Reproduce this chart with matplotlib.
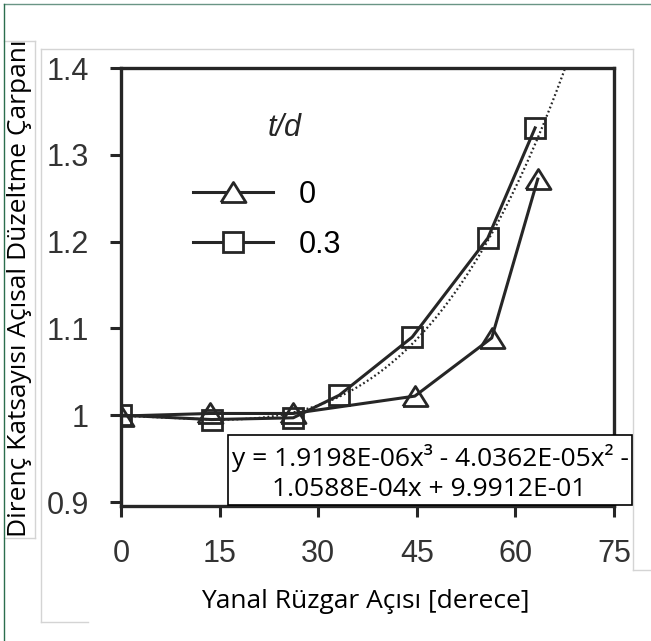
import numpy as np
import matplotlib
matplotlib.use("Agg")
import matplotlib.pyplot as plt
from matplotlib.patches import Rectangle
from matplotlib.lines import Line2D

# measured drag correction factors vs. yaw angle
angle_td0 = [0, 13.6, 26.2, 44.7, 56.4, 63.4]
factor_td0 = [0.999, 1.002, 1.002, 1.022, 1.089, 1.272]
angle_td03 = [0, 13.8, 26.2, 33.2, 44.3, 55.8, 63.0]
factor_td03 = [1.000, 0.995, 0.997, 1.023, 1.090, 1.204, 1.331]
series_labels = ["0", "0.3"]

# cubic trend line fitted to the t/d = 0.3 series
trend_coef = [1.9198E-06, -4.0362E-05, -1.0588E-04, 9.9912E-01]

x_ticks = [0, 15, 30, 45, 60, 75]
y_ticks = [0.9, 1.0, 1.1, 1.2, 1.3, 1.4]
y_ticklabels = ["0.9", "1", "1.1", "1.2", "1.3", "1.4"]

W, H = 651, 641
ink = "#262626"
tick_font = "Liberation Sans"
text_font = "Open Sans"

fig = plt.figure(figsize=(W / 100, H / 100), dpi=100)
fig.patch.set_facecolor("white")


def fx(px):
    return px / W


def fy(py):
    return 1 - py / H


ax = fig.add_axes([fx(121), fy(506), fx(614) - fx(121), fy(68) - fy(506)])
ax.set_xlim(0, 75)
ax.set_ylim(0.8954, 1.4)

tri = [(-1, -0.8), (1, -0.8), (0, 0.8), (-1, -0.8)]
mk = dict(mfc="none", mec=ink, mew=2.0, color=ink, lw=2.2)
ax.plot(angle_td0, factor_td0, marker=tri, ms=18, label=series_labels[0], **mk)
ax.plot(angle_td03, factor_td03, marker="s", ms=15, label=series_labels[1], **mk)

xs = np.linspace(0, 72, 300)
ax.plot(xs, np.polyval(trend_coef, xs), color=ink, lw=1.6, ls=(0, (0.8, 1.2)))

for s in ax.spines.values():
    s.set_linewidth(2.4)
    s.set_color(ink)
ax.set_xticks(x_ticks)
ax.set_yticks(y_ticks)
ax.set_yticklabels(y_ticklabels)
ax.tick_params(direction="out", length=8, width=2.2, color=ink,
               labelsize=22, labelcolor="#333333")
ax.tick_params(axis="y", pad=15)
ax.tick_params(axis="x", pad=16)
for lab in ax.get_xticklabels() + ax.get_yticklabels():
    lab.set_family(tick_font)

# legend
handles = [
    Line2D([], [], marker=tri, ms=18, mfc="white", mec=ink, mew=2.0, color=ink, lw=2.2),
    Line2D([], [], marker="s", ms=15, mfc="white", mec=ink, mew=2.0, color=ink, lw=2.2),
]
ax.legend(handles, series_labels, loc="upper left",
          bbox_to_anchor=(fx(193), fy(180)), bbox_transform=fig.transFigure,
          frameon=False, borderpad=0, borderaxespad=0, handlelength=2.62,
          handletextpad=0.85, labelspacing=0.66,
          prop={"family": tick_font, "size": 22})
fig.text(fx(285), fy(128), "t/d", ha="center", va="center", fontsize=22,
         style="italic", family=tick_font, color=ink)

# equation box
fig.add_artist(Rectangle((fx(228), fy(505)), fx(632) - fx(228), fy(435) - fy(505),
                         transform=fig.transFigure, fc="white", ec="black", lw=1.2,
                         zorder=5))
fig.text(fx(430), fy(458), "y = 1.9198E-06x³ - 4.0362E-05x² -", ha="center",
         va="center", fontsize=19, family=text_font, color="black", zorder=6)
fig.text(fx(429), fy(489), "1.0588E-04x + 9.9912E-01", ha="center",
         va="center", fontsize=19, family=text_font, color="black", zorder=6)

# axis titles
fig.text(fx(365), fy(601), "Yanal Rüzgar Açısı [derece]", ha="center", va="center",
         fontsize=19, family=text_font, color="black")
fig.text(fx(20), fy(288), "Direnç Katsayısı Açısal Düzeltme Çarpanı", ha="center",
         va="center", rotation=90, fontsize=19, family=text_font, color="black")

# panel outlines
gray = "#d4d4d4"
frame_lines = [
    ([41, 633], [49, 49], gray), ([41, 41], [49, 622], gray), ([41, 88], [622, 622], gray),
    ([633, 633], [49, 570], gray), ([633, 651], [570, 570], gray),
    ([4, 35], [41, 41], gray), ([35, 35], [41, 538], gray), ([4, 35], [538, 538], gray),
    ([4, 651], [4, 4], "#6a9585"), ([4, 4], [4, 641], "#2b6e4e"),
]
for xx, yy, c in frame_lines:
    fig.add_artist(Line2D([fx(v) for v in xx], [fy(v) for v in yy],
                          transform=fig.transFigure, color=c, lw=1.0))

fig.savefig("out.png", dpi=100)
